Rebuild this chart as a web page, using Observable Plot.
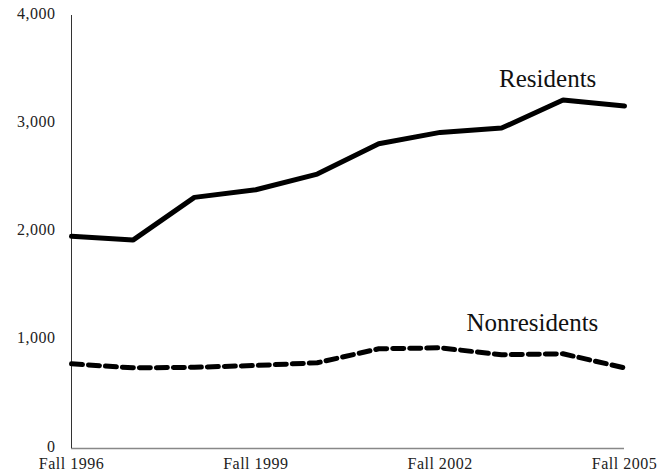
<!DOCTYPE html>
<html>
<head>
<meta charset="utf-8">
<script src="https://cdn.jsdelivr.net/npm/d3@7"></script>
<script src="https://cdn.jsdelivr.net/npm/@observablehq/plot@0.6"></script>
<style>
  html, body { margin: 0; padding: 0; background: #fff; }
  #chart svg { display: block; }
  #chart svg g[aria-label="y-axis tick label"] text,
  #chart svg g[aria-label="x-axis tick label"] text { font-size: 16px; letter-spacing: 0.5px; }
</style>
</head>
<body>
<div id="chart"></div>
<script>
const years = [1996, 1997, 1998, 1999, 2000, 2001, 2002, 2003, 2004, 2005];
const residents = [1960, 1925, 2320, 2390, 2535, 2815, 2920, 2960, 3220, 3165];
const nonresidents = [782, 745, 750, 767, 792, 921, 930, 866, 875, 745];
const xTicks = [1996, 1999, 2002, 2005];
const yTicks = [0, 1000, 2000, 3000, 4000];
const seriesLabels = ["Residents", "Nonresidents"];
const labelYears = [2003.75, 2003.5];
const labelValues = [3418, 1157];

const resData = years.map((y, i) => ({year: y, value: residents[i]}));
const nonData = years.map((y, i) => ({year: y, value: nonresidents[i]}));
const labelData = seriesLabels.map((t, i) => ({text: t, year: labelYears[i], value: labelValues[i]}));

const chart = Plot.plot({
  width: 658,
  height: 475,
  marginLeft: 71,
  marginRight: 34,
  marginTop: 15,
  marginBottom: 27,
  style: {fontFamily: "'Liberation Serif', serif", fontSize: "16px", background: "#fff", color: "#222"},
  x: {domain: [1996, 2005]},
  y: {domain: [0, 4000]},
  marks: [
    Plot.axisY({ticks: yTicks, tickSize: 0, tickPadding: 16, dy: -2, tickFormat: d3.format(","), fontSize: 16, label: null}),
    Plot.axisX({ticks: xTicks, tickSize: 0, tickPadding: 9, tickFormat: d => "Fall " + d, fontSize: 16, label: null}),
    Plot.ruleY([0], {stroke: "#888", strokeWidth: 1.5}),
    Plot.ruleX([years[0]], {stroke: "#333", strokeWidth: 1}),
    Plot.line(resData, {x: "year", y: "value", stroke: "#000", strokeWidth: 5, strokeLinejoin: "miter"}),
    Plot.line(nonData, {x: "year", y: "value", stroke: "#000", strokeWidth: 5, strokeDasharray: "11,6", strokeLinejoin: "miter"}),
    Plot.text(labelData, {x: "year", y: "value", text: "text", fontSize: 25, fill: "#111", textAnchor: "middle"})
  ]
});
document.getElementById("chart").appendChild(chart);
</script>
</body>
</html>
